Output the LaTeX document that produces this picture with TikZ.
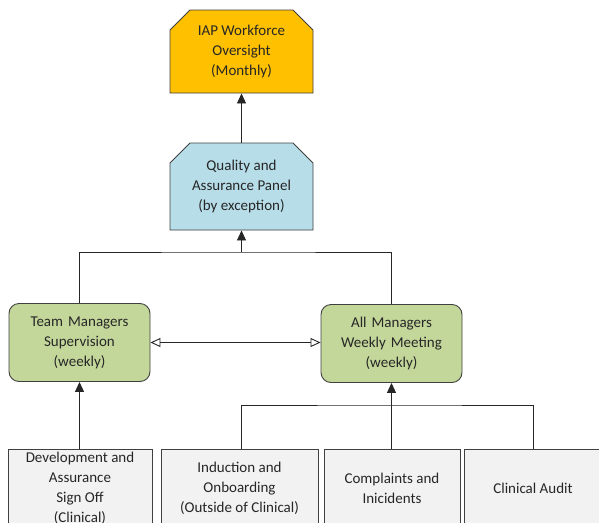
\documentclass[tikz,border=0pt]{standalone}
\usepackage{fontspec}
\setmainfont{Carlito}
\usetikzlibrary{arrows.meta,shapes.misc}
\definecolor{iaporange}{RGB}{255,192,0}
\definecolor{panelblue}{RGB}{183,221,232}
\definecolor{mgrgreen}{RGB}{196,215,155}
\definecolor{srcgray}{RGB}{242,242,242}
\definecolor{edgegray}{RGB}{64,64,64}

\begin{document}
\begin{tikzpicture}[x=1pt,y=-1pt,
  font=\fontsize{15}{20}\selectfont, text=black!85,
  chamf/.style={chamfered rectangle,chamfered rectangle corners={north west,north east},
    chamfered rectangle xsep=11pt,chamfered rectangle ysep=9pt,draw=edgegray,line width=.9pt,
    minimum width=143pt,align=center,inner sep=0pt},
  mgr/.style={draw=edgegray,rounded corners=10pt,fill=mgrgreen,line width=.9pt,
    minimum width=141pt,text width=136pt,minimum height=78pt,align=center,inner sep=0pt},
  source/.style={draw=edgegray,fill=srcgray,line width=.9pt,
    minimum height=78pt,align=center,inner sep=0pt},
  arr/.style={-{Triangle[width=9pt,length=10pt]},line width=.9pt,draw=black!85},
  link/.style={line width=.9pt,draw=black!85}
]
\useasboundingbox (0,0) rectangle (599,522);
\clip (0,0) rectangle (599,522);

\node[chamf,fill=iaporange,minimum height=83pt] (iap) at (241.5,51.5) {IAP Workforce\\Oversight\\(Monthly)};
\node[chamf,fill=panelblue,minimum height=87pt] (qap) at (241.5,186.5) {Quality and\\Assurance Panel\\(by exception)};

\node[mgr] (team) at (79.5,342.5) {Team Managers\\Supervision\\(weekly)};
\node[mgr] (allmgr) at (391.5,343.5) {All Managers\\Weekly Meeting\\(weekly)};

\node[source,minimum width=144pt] (dev) at (80,488) {Development and\\Assurance\\Sign Off\\(Clinical)};
\node[source,minimum width=157pt] (ind) at (239.5,488) {Induction and\\Onboarding\\(Outside of Clinical)};
\node[source,minimum width=136pt] (comp) at (392,488) {Complaints and\\Inicidents};
\node[source,minimum width=138pt] (audit) at (533,488) {Clinical Audit};

\coordinate (qbar) at (241.5,252);
\coordinate (abar) at (391.5,405);

\draw[arr] (qap.north) -- (iap.south);
\draw[link] (team.north) |- (qbar) -| (allmgr.north);
\draw[arr] (qbar) -- (qap.south);
\draw[link,{Triangle[open,width=9pt,length=10pt]}-{Triangle[open,width=9pt,length=10pt]}]
  (team.east) -- (team.east -| allmgr.west);

\draw[arr] (dev.north -| team.south) -- (team.south);
\draw[link] (ind.north -| 241,0) |- (abar) -| (audit.north);
\draw[arr] (comp.north -| abar) -- (allmgr.south);
\end{tikzpicture}
\end{document}
